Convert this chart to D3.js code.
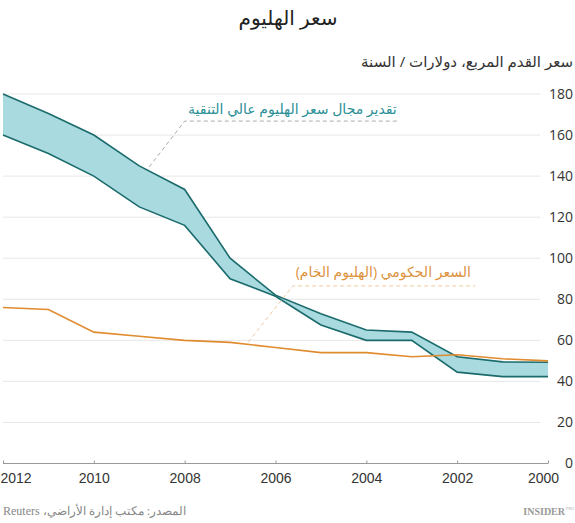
<!DOCTYPE html>
<meta charset="utf-8">
<style>
body { margin: 0; background: #fff; }
svg { font-family: "Open Sans", "Noto Sans", "DejaVu Sans", sans-serif; }
.grid line { stroke: #e6e6e6; }
.axis--x path { display: none; }
.axis--x line { stroke: #999; }
.axis text { fill: #333; font-size: 14px; }
</style>
<svg width="575" height="523"></svg>
<script src="https://d3js.org/d3.v7.min.js"></script>
<script>
var years = [2012, 2011, 2010, 2009, 2008, 2007, 2006, 2005, 2004, 2003, 2002, 2001, 2000];
var highUpper = [180, 170.5, 160, 145, 133.5, 100, 82, 73, 65, 64, 52, 49.5, 49.3];
var highLower = [160, 151, 140, 125, 116, 90, 81.5, 67.5, 60, 60, 44.5, 42.3, 42.3];
var govPrice = [76, 75, 64, 62, 60, 59, 56.5, 54, 54, 52, 53, 51, 50];
var xTicks = [2012, 2010, 2008, 2006, 2004, 2002, 2000];
var yTicks = [0, 20, 40, 60, 80, 100, 120, 140, 160, 180];

var svg = d3.select("svg");

var x = d3.scaleLinear().domain([2012, 2000]).range([3, 548]),
    y = d3.scaleLinear().domain([0, 180]).range([463.5, 94]);

var data = years.map(function(yr, i) {
  return {year: yr, hi: highUpper[i], lo: highLower[i], gov: govPrice[i]};
});

// title and subtitle
svg.append("text")
    .attr("x", 288).attr("y", 25)
    .attr("text-anchor", "middle")
    .attr("direction", "rtl")
    .style("font-size", "20px")
    .style("fill", "#222")
    .text("سعر الهليوم");

svg.append("text")
    .attr("x", 573).attr("y", 67)
    .attr("direction", "rtl")
    .attr("text-anchor", "start")
    .style("font-size", "15px")
    .style("fill", "#333")
    .text("سعر القدم المربع، دولارات / السنة");

// gridlines
svg.append("g")
    .attr("class", "grid")
  .selectAll("line")
  .data(yTicks.filter(function(d) { return d > 0; }))
  .enter().append("line")
    .attr("x1", x(2012)).attr("x2", 540)
    .attr("y1", function(d) { return y(d); })
    .attr("y2", function(d) { return y(d); });

// y labels on the right
svg.append("g")
    .attr("class", "axis axis--y")
  .selectAll("text")
  .data(yTicks)
  .enter().append("text")
    .attr("x", 573)
    .attr("y", function(d) { return y(d); })
    .attr("dy", "0.35em")
    .attr("text-anchor", "end")
    .text(function(d) { return d; });

// x axis
var gx = svg.append("g")
    .attr("class", "axis axis--x")
    .attr("transform", "translate(0," + y(0) + ")")
    .call(d3.axisBottom(x).tickValues(xTicks).tickFormat(d3.format("d")).tickSize(-3).tickPadding(10));

gx.append("line")
    .attr("x1", x(2012)).attr("x2", x(2000))
    .attr("stroke", "#999");

gx.selectAll(".tick text")
    .style("font-size", "14px")
    .attr("text-anchor", function(d) { return d === 2012 ? "start" : "middle"; })
    .attr("dx", function(d) { return d === 2012 ? -3 : (d === 2000 ? -5 : 0); });

gx.select(".domain").remove();

// band
var area = d3.area()
    .x(function(d) { return x(d.year); })
    .y0(function(d) { return y(d.lo); })
    .y1(function(d) { return y(d.hi); });

svg.append("path")
    .datum(data)
    .attr("fill", "#a9dae0")
    .attr("d", area);

var lineHi = d3.line().x(function(d) { return x(d.year); }).y(function(d) { return y(d.hi); }),
    lineLo = d3.line().x(function(d) { return x(d.year); }).y(function(d) { return y(d.lo); }),
    lineGov = d3.line().x(function(d) { return x(d.year); }).y(function(d) { return y(d.gov); });

svg.append("path").datum(data)
    .attr("fill", "none").attr("stroke", "#1b6b6c").attr("stroke-width", 1.6)
    .attr("d", lineHi);
svg.append("path").datum(data)
    .attr("fill", "none").attr("stroke", "#1b6b6c").attr("stroke-width", 1.6)
    .attr("d", lineLo);
svg.append("path").datum(data)
    .attr("fill", "none").attr("stroke", "#e08b2e").attr("stroke-width", 1.6)
    .attr("d", lineGov);

// annotations
var notes = [
  {text: "تقدير مجال سعر الهليوم عالي التنقية", color: "#2b8f97", lead: "#aaa",
   tx: 2003.33, ty: 172.5, ux0: 2008.0, ux1: 2003.3, uy: 166.8, px: 2008.78, py: 144.5},
  {text: "السعر الحكومي (الهليوم الخام)", color: "#dc9240", lead: "#efc9a3",
   tx: 2001.7, ty: 93.3, ux0: 2005.62, ux1: 2001.6, uy: 86.5, px: 2006.6, py: 59.2}
];

notes.forEach(function(n) {
  svg.append("polyline")
      .attr("points", [[x(n.px), y(n.py)], [x(n.ux0), y(n.uy)], [x(n.ux1), y(n.uy)]].join(" "))
      .attr("fill", "none")
      .attr("stroke", n.lead)
      .attr("stroke-width", 1)
      .attr("stroke-dasharray", "4,3");
  svg.append("text")
      .attr("x", x(n.tx)).attr("y", y(n.ty))
      .attr("dy", "0.35em")
      .attr("direction", "rtl")
      .attr("text-anchor", "start")
      .style("font-size", "14px")
      .style("fill", n.color)
      .text(n.text);
});

// source and logo
svg.append("text")
    .attr("x", 3).attr("y", 515)
    .attr("direction", "rtl")
    .attr("text-anchor", "end")
    .style("font-family", "'Liberation Serif', 'DejaVu Serif', serif")
    .style("font-size", "12px")
    .style("fill", "#888")
    .text("المصدر: مكتب إدارة الأراضي، Reuters");

svg.append("text")
    .attr("x", 565).attr("y", 515)
    .attr("text-anchor", "end")
    .style("font-family", "'Liberation Serif', serif")
    .style("font-weight", "bold")
    .style("font-size", "10px")
    .style("fill", "#999")
    .text("INSIDER");
svg.append("text")
    .attr("x", 566).attr("y", 510)
    .style("font-size", "4px")
    .style("fill", "#aaa")
    .text("PRO");
</script>
